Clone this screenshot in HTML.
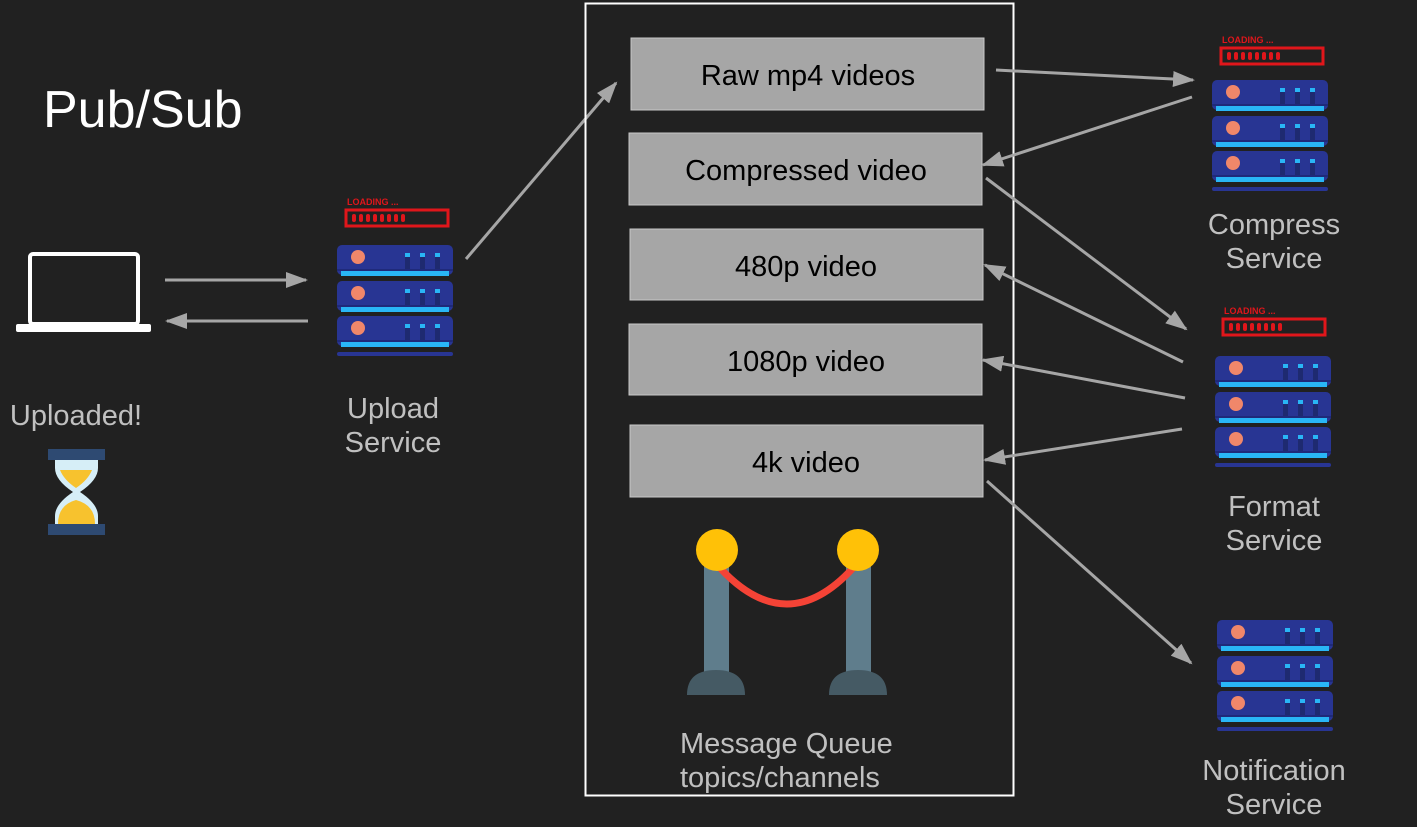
<!DOCTYPE html>
<html><head><meta charset="utf-8"><style>
html,body{margin:0;padding:0;background:#212121;}
svg{display:block}
text{font-family:"Liberation Sans",Arial,sans-serif;}
</style></head><body>
<svg width="1417" height="827" viewBox="0 0 1417 827" xmlns="http://www.w3.org/2000/svg">
<defs>
<marker id="ah" markerWidth="22" markerHeight="16" refX="20" refY="8" orient="auto" markerUnits="userSpaceOnUse">
<path d="M0,0 L22,8 L0,16 Z" fill="#a6a6a6"/>
</marker>
<g id="unit">
<rect x="0" y="0" width="116" height="30" rx="5" fill="#283593"/>
<rect x="4" y="24" width="108" height="7" fill="#29b6f6"/>
<rect x="0" y="24" width="116" height="2" fill="#1f2a7a"/>
<circle cx="21" cy="12" r="7" fill="#f0876a"/>
<rect x="68" y="8" width="5" height="16" fill="#1e2a70"/><rect x="68" y="8" width="5" height="4" fill="#29b6f6"/>
<rect x="83" y="8" width="5" height="16" fill="#1e2a70"/><rect x="83" y="8" width="5" height="4" fill="#29b6f6"/>
<rect x="98" y="8" width="5" height="16" fill="#1e2a70"/><rect x="98" y="8" width="5" height="4" fill="#29b6f6"/>
</g>
<g id="server">
<use href="#unit" x="0" y="0"/>
<use href="#unit" x="0" y="36"/>
<use href="#unit" x="0" y="71"/>
<rect x="0" y="107" width="116" height="4" rx="2" fill="#283593"/>
</g>
<g id="loading">
<text x="2" y="9" font-size="9" font-weight="bold" fill="#e0161b">LOADING ...</text>
<rect x="1" y="14" width="102" height="16" fill="none" stroke="#e0161b" stroke-width="3"/>
<g fill="#e0161b">
<rect x="7" y="18" width="4" height="8" rx="2"/><rect x="14" y="18" width="4" height="8" rx="2"/><rect x="21" y="18" width="4" height="8" rx="2"/><rect x="28" y="18" width="4" height="8" rx="2"/><rect x="35" y="18" width="4" height="8" rx="2"/><rect x="42" y="18" width="4" height="8" rx="2"/><rect x="49" y="18" width="4" height="8" rx="2"/><rect x="56" y="18" width="4" height="8" rx="2"/>
</g>
</g>
</defs>

<text x="43" y="127" font-size="52" fill="#ffffff">Pub/Sub</text>

<rect x="30" y="254" width="108" height="70" rx="3" fill="none" stroke="#fff" stroke-width="4"/>
<rect x="16" y="324" width="135" height="8" rx="2" fill="#fff"/>
<text x="76" y="425" font-size="29" fill="#c0c0c0" text-anchor="middle">Uploaded!</text>
<rect x="48" y="449" width="57" height="11" fill="#2e4a72"/>
<rect x="48" y="524" width="57" height="11" fill="#2e4a72"/>
<path d="M55,460 L98,460 L98,468 Q98,480 80,492 Q98,504 98,516 L98,524 L55,524 L55,516 Q55,504 73,492 Q55,480 55,468 Z" fill="#d6eef7"/>
<path d="M60,470 L92,470 Q88,480 76,488 Q64,480 60,470 Z" fill="#f7c22e"/>
<path d="M58,524 L95,524 Q95,505 76,500 Q58,505 58,524 Z" fill="#f7c22e"/>

<line x1="165" y1="280" x2="306" y2="280" stroke="#a6a6a6" stroke-width="3" marker-end="url(#ah)"/>
<line x1="308" y1="321" x2="167" y2="321" stroke="#a6a6a6" stroke-width="3" marker-end="url(#ah)"/>

<use href="#loading" x="345" y="196"/>
<use href="#server" x="337" y="245"/>
<text x="393" y="418" font-size="29" fill="#c0c0c0" text-anchor="middle">Upload</text>
<text x="393" y="452" font-size="29" fill="#c0c0c0" text-anchor="middle">Service</text>

<line x1="466" y1="259" x2="616" y2="83" stroke="#a6a6a6" stroke-width="3" marker-end="url(#ah)"/>

<rect x="585.5" y="3.5" width="428" height="792" fill="none" stroke="#fff" stroke-width="2"/>
<g fill="#a6a6a6" stroke="#c8c8c8" stroke-width="1">
<rect x="631" y="38" width="353" height="72"/>
<rect x="629" y="133" width="353" height="72"/>
<rect x="630" y="229" width="353" height="71"/>
<rect x="629" y="324" width="353" height="71"/>
<rect x="630" y="425" width="353" height="72"/>
</g>
<g font-size="29" fill="#000" text-anchor="middle">
<text x="808" y="85">Raw mp4 videos</text>
<text x="806" y="180">Compressed video</text>
<text x="806" y="276">480p video</text>
<text x="806" y="371">1080p video</text>
<text x="806" y="472">4k video</text>
</g>
<rect x="704" y="560" width="25" height="115" rx="3" fill="#5f7d8c"/>
<rect x="846" y="560" width="25" height="115" rx="3" fill="#5f7d8c"/>
<path d="M687,695 Q687,670 716,670 Q745,670 745,695 Z" fill="#455a64"/>
<path d="M829,695 Q829,670 858,670 Q887,670 887,695 Z" fill="#455a64"/>
<path d="M720,568 Q787,640 853,568" fill="none" stroke="#f44336" stroke-width="7"/>
<circle cx="717" cy="550" r="21" fill="#ffc107"/>
<circle cx="858" cy="550" r="21" fill="#ffc107"/>
<text x="680" y="753" font-size="29" fill="#c0c0c0">Message Queue</text>
<text x="680" y="787" font-size="29" fill="#c0c0c0">topics/channels</text>

<g stroke="#a6a6a6" stroke-width="3" marker-end="url(#ah)">
<line x1="996" y1="70" x2="1193" y2="80"/>
<line x1="1192" y1="97" x2="983" y2="165"/>
<line x1="986" y1="178" x2="1186" y2="329"/>
<line x1="1183" y1="362" x2="985" y2="265"/>
<line x1="1185" y1="398" x2="983" y2="360"/>
<line x1="1182" y1="429" x2="985" y2="460"/>
<line x1="987" y1="481" x2="1191" y2="663"/>
</g>

<use href="#loading" x="1220" y="34"/>
<use href="#server" x="1212" y="80"/>
<text x="1274" y="234" font-size="29" fill="#c0c0c0" text-anchor="middle">Compress</text>
<text x="1274" y="268" font-size="29" fill="#c0c0c0" text-anchor="middle">Service</text>

<use href="#loading" x="1222" y="305"/>
<use href="#server" x="1215" y="356"/>
<text x="1274" y="516" font-size="29" fill="#c0c0c0" text-anchor="middle">Format</text>
<text x="1274" y="550" font-size="29" fill="#c0c0c0" text-anchor="middle">Service</text>

<use href="#server" x="1217" y="620"/>
<text x="1274" y="780" font-size="29" fill="#c0c0c0" text-anchor="middle">Notification</text>
<text x="1274" y="814" font-size="29" fill="#c0c0c0" text-anchor="middle">Service</text>
</svg>
</body></html>
